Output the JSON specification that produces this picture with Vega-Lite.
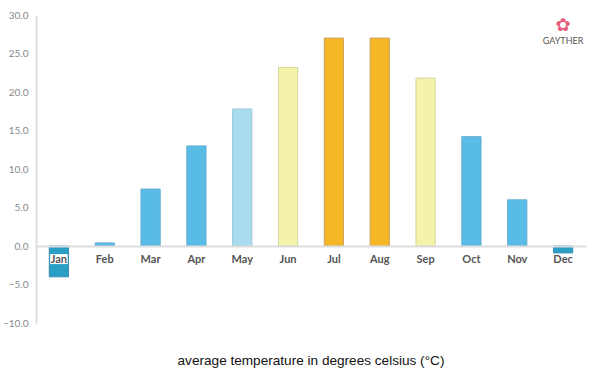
{
  "$schema": "https://vega.github.io/schema/vega-lite/v6.json",
  "width": 550,
  "height": 308,
  "autosize": {"type": "none"},
  "padding": {"left": 36, "top": 15, "right": 14, "bottom": 52},
  "background": "white",
  "config": {
    "view": {"stroke": null},
    "axisY": {
      "title": null,
      "format": ".1f",
      "labelOverlap": false,
      "grid": false,
      "ticks": false,
      "domainColor": "#dddddd",
      "domainWidth": 2,
      "labelFont": "Lato",
      "labelFontSize": 10,
      "labelColor": "#888888",
      "labelPadding": 8
    }
  },
  "title": {
    "text": "average temperature in degrees celsius (°C)",
    "orient": "bottom",
    "anchor": "middle",
    "font": "Liberation Sans",
    "fontSize": 13.6,
    "fontWeight": "normal",
    "color": "#111",
    "offset": 26,
    "frame": "group"
  },
  "data": {
    "values": [
      {"month": "Jan", "temp": -4.0, "band": "cold"},
      {"month": "Feb", "temp": 0.4, "band": "cool"},
      {"month": "Mar", "temp": 7.4, "band": "cool"},
      {"month": "Apr", "temp": 13.0, "band": "cool"},
      {"month": "May", "temp": 17.8, "band": "mild"},
      {"month": "Jun", "temp": 23.2, "band": "warm"},
      {"month": "Jul", "temp": 27.0, "band": "hot"},
      {"month": "Aug", "temp": 27.0, "band": "hot"},
      {"month": "Sep", "temp": 21.8, "band": "warm"},
      {"month": "Oct", "temp": 14.2, "band": "cool"},
      {"month": "Nov", "temp": 6.0, "band": "cool"},
      {"month": "Dec", "temp": -0.9, "band": "cold"}
    ]
  },
  "encoding": {
    "x": {
      "field": "month",
      "type": "nominal",
      "sort": null,
      "scale": {"paddingInner": 0.58, "paddingOuter": 0.29},
      "axis": {
        "title": null,
        "orient": "bottom",
        "offset": -77,
        "zindex": 1,
        "labelAngle": 0,
        "ticks": false,
        "domainColor": "#dddddd",
        "domainWidth": 2,
        "labelFont": "Lato",
        "labelFontWeight": "bold",
        "labelFontSize": 11,
        "labelColor": "#555555",
        "labelPadding": 7
      }
    }
  },
  "layer": [
    {
      "mark": {"type": "bar", "strokeWidth": 1},
      "encoding": {
        "y": {
          "field": "temp",
          "type": "quantitative",
          "scale": {"domain": [-10, 30], "nice": false},
          "axis": {"values": [-10, -5, 0, 5, 10, 15, 20, 25, 30], "title": null}
        },
        "y2": {"datum": 0},
        "fill": {
          "field": "band",
          "type": "nominal",
          "scale": {
            "domain": ["cold", "cool", "mild", "warm", "hot"],
            "range": ["#2a9fc6", "#58bce6", "#a9dcef", "#f3f3aa", "#f5b725"]
          },
          "legend": null
        },
        "stroke": {
          "field": "band",
          "type": "nominal",
          "scale": {
            "domain": ["cold", "cool", "mild", "warm", "hot"],
            "range": ["#3a8fb0", "#6aaed0", "#9cc8da", "#d5d5a0", "#c9a060"]
          },
          "legend": null
        }
      }
    },
    {
      "transform": [{"filter": "datum.temp < 0"}],
      "mark": {
        "type": "point",
        "shape": "M-1.75,-1H1.75V1H-1.75Z",
        "filled": true,
        "color": "white",
        "opacity": 1,
        "size": 100
      },
      "encoding": {"y": {"datum": -1.7, "axis": {"values": [-10, -5, 0, 5, 10, 15, 20, 25, 30], "title": null}}}
    },
    {
      "data": {"values": [{"logo": "GAYTHER", "month": "Dec"}]},
      "mark": {"type": "text", "font": "Lato", "fontSize": 9, "color": "#555555", "align": "center", "baseline": "middle"},
      "encoding": {"text": {"field": "logo"}, "y": {"datum": 26.6, "axis": {"values": [-10, -5, 0, 5, 10, 15, 20, 25, 30], "title": null}}}
    },
    {
      "data": {"values": [{"logo": "✿", "month": "Dec"}]},
      "mark": {"type": "text", "font": "DejaVu Sans", "fontSize": 18, "color": "#e75a7c", "align": "center", "baseline": "middle"},
      "encoding": {"text": {"field": "logo"}, "y": {"datum": 28.6, "axis": {"values": [-10, -5, 0, 5, 10, 15, 20, 25, 30], "title": null}}}
    }
  ]
}
